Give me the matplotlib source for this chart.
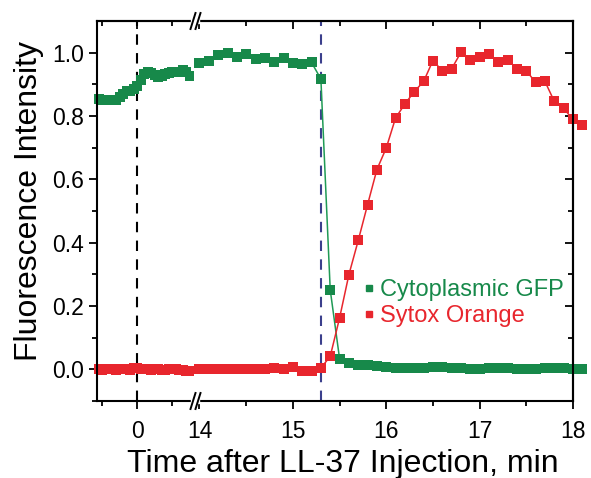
import numpy as np
import matplotlib
matplotlib.use("Agg")
import matplotlib.pyplot as plt
from matplotlib.lines import Line2D

plt.rcParams["font.family"] = ["Liberation Sans", "DejaVu Sans"]

# tiempos (min) antes del corte del eje
t_antes = [-0.55, -0.50, -0.45, -0.40, -0.35, -0.30, -0.25, -0.20, -0.15,
           -0.10, -0.05, 0.00, 0.05, 0.10, 0.15, 0.20, 0.25, 0.30, 0.35,
           0.40, 0.45, 0.50, 0.55, 0.60, 0.65, 0.70, 0.75]
gfp_antes = [0.854, 0.852, 0.849, 0.849, 0.850, 0.852, 0.860, 0.868, 0.878,
             0.880, 0.886, 0.896, 0.915, 0.933, 0.938, 0.936, 0.928, 0.922,
             0.925, 0.933, 0.937, 0.938, 0.938, 0.940, 0.945, 0.938, 0.925]
sytox_antes = [0.0, -0.002, 0.0, 0.002, 0.0, -0.003, 0.0, 0.002, 0.0,
               -0.002, 0.003, 0.005, 0.002, 0.0, 0.002, -0.002, 0.0, 0.0,
               -0.003, -0.002, 0.0, 0.002, 0.0, -0.003, -0.002, -0.004, -0.004]

# tiempos (min) despues del corte
t_despues = [14.0, 14.1, 14.2, 14.3, 14.4, 14.5, 14.6, 14.7, 14.8, 14.9,
             15.0, 15.1, 15.2, 15.3, 15.4, 15.5, 15.6, 15.7, 15.8, 15.9,
             16.0, 16.1, 16.2, 16.3, 16.4, 16.5, 16.6, 16.7, 16.8, 16.9,
             17.0, 17.1, 17.2, 17.3, 17.4, 17.5, 17.6, 17.7, 17.8, 17.9,
             18.0, 18.1]
gfp_despues = [0.966, 0.975, 0.994, 1.000, 0.985, 0.996, 0.980, 0.983, 0.969, 0.982,
               0.966, 0.964, 0.969, 0.917, 0.251, 0.034, 0.020, 0.013, 0.013, 0.011,
               0.007, 0.004, 0.005, 0.005, 0.005, 0.007, 0.007, 0.004, 0.004, 0.002,
               0.002, 0.004, 0.005, 0.004, 0.002, 0.002, 0.002, 0.004, 0.005, 0.005,
               0.002, 0.000]
sytox_despues = [0.0, 0.0, 0.0, 0.0, 0.0, 0.0, 0.0, 0.0, 0.003, 0.0,
                 0.006, -0.004, -0.004, 0.004, 0.041, 0.162, 0.299, 0.407, 0.520, 0.631,
                 0.699, 0.794, 0.838, 0.877, 0.909, 0.975, 0.943, 0.949, 1.001, 0.978,
                 0.985, 0.996, 0.972, 0.978, 0.949, 0.943, 0.906, 0.909, 0.846, 0.824,
                 0.789, 0.773]

t_inyeccion = 0.0
t_lisis = 15.3

verde = "#17894a"
verde_linea = "#1f9a55"
rojo = "#e8262d"
azul = "#3b3f8c"

fig = plt.figure(figsize=(5.91, 4.78), dpi=100)
W, H = 591, 478
izq, corte, der = 97, 194, 573
arriba, abajo = 21, 401
ax1 = fig.add_axes([izq / W, 1 - abajo / H, (corte - izq) / W, (abajo - arriba) / H])
ax2 = fig.add_axes([corte / W, 1 - abajo / H, (der - corte) / W, (abajo - arriba) / H])

estilo = dict(marker="s", markersize=6.5, markeredgewidth=0, lw=1.1, clip_on=False)
ax1.plot(t_antes, gfp_antes, color=verde, **estilo)
ax1.plot(t_antes, sytox_antes, color=rojo, **estilo)
ax2.plot(t_despues, gfp_despues, color=verde_linea, markerfacecolor=verde, **estilo)
ax2.plot(t_despues, sytox_despues, color=rojo, **estilo)

ax1.axvline(t_inyeccion, color="black", lw=1.5, ls=(0, (5, 4)), zorder=0)
ax2.axvline(t_lisis, color=azul, lw=1.5, ls=(0, (5, 4)), zorder=0)

ax1.set_xlim(-40 / 70, 57 / 70)
ax2.set_xlim(15 - (293 - corte) / 93.5, 18)
for ax in (ax1, ax2):
    ax.set_ylim(-0.1, 1.1)
    for s in ax.spines.values():
        s.set_linewidth(1.5)

ax1.spines["right"].set_visible(False)
ax2.spines["left"].set_visible(False)

ax1.set_xticks([0])
ax1.set_xticks([-0.5, 0.5], minor=True)
ax2.set_xticks([14, 15, 16, 17, 18])
ax2.set_xticks([14.5, 15.5, 16.5, 17.5], minor=True)
ax1.set_yticks([0.0, 0.2, 0.4, 0.6, 0.8, 1.0])
ax1.set_yticks([-0.1, 0.1, 0.3, 0.5, 0.7, 0.9], minor=True)
ax2.set_yticks([0.0, 0.2, 0.4, 0.6, 0.8, 1.0])
ax2.set_yticks([-0.1, 0.1, 0.3, 0.5, 0.7, 0.9], minor=True)

for ax in (ax1, ax2):
    ax.tick_params(which="major", length=6, width=1.3, direction="out", labelsize=16.5)
    ax.tick_params(which="minor", length=3.5, width=1.3, direction="out")
    ax.tick_params(axis="x", which="major", pad=7.5)
    # marcas espejo hacia dentro en el borde superior
    sup = ax.secondary_xaxis("top")
    sup.set_xticks(ax.get_xticks())
    sup.set_xticks(ax.get_xticks(minor=True), minor=True)
    sup.tick_params(which="major", length=6, width=1.3, direction="in", labeltop=False)
    sup.tick_params(which="minor", length=3.5, width=1.3, direction="in")
    sup.spines["top"].set_linewidth(1.5)

ax1.yaxis.set_major_formatter(plt.FormatStrFormatter("%.1f"))
ax2.tick_params(axis="y", which="both", left=False, labelleft=False)
lado = ax2.secondary_yaxis("right")
lado.set_yticks([0.0, 0.2, 0.4, 0.6, 0.8, 1.0])
lado.set_yticks([-0.1, 0.1, 0.3, 0.5, 0.7, 0.9], minor=True)
lado.tick_params(which="major", length=6, width=1.3, direction="in", labelright=False)
lado.tick_params(which="minor", length=3.5, width=1.3, direction="in")
lado.spines["right"].set_linewidth(1.5)

fig.text(29.5 / W, 1 - 201 / H, "Fluorescence Intensity", fontsize=23,
         rotation=90, ha="center", va="center")
fig.text(342.5 / W, 1 - 472 / H, "Time after LL-37 Injection, min",
         fontsize=23, ha="center", va="baseline")

# marcas de corte del eje
for y in (arriba, abajo):
    yf = 1 - y / H
    fig.patches.append(plt.Rectangle(((corte - 3) / W, yf - 2 / H), 8 / W, 4 / H,
                                     transform=fig.transFigure, color="white", zorder=5))
    for x0 in (190.5, 195.5):
        fig.lines.append(Line2D([x0 / W, (x0 + 5) / W], [yf - 8 / H, yf + 8 / H],
                                transform=fig.transFigure, color="black", lw=1.4, zorder=6))

manejadores = [Line2D([], [], ls="none", marker="s", markersize=5, color=verde),
               Line2D([], [], ls="none", marker="s", markersize=5, color=rojo)]
ley = ax2.legend(manejadores, ["Cytoplasmic GFP", "Sytox Orange"], loc="upper left",
                 bbox_to_anchor=(0.45, 0.32), frameon=False, fontsize=17,
                 handlelength=0.4, handletextpad=0.25, borderaxespad=0, borderpad=0,
                 labelspacing=0.15)
for txt, c in zip(ley.get_texts(), (verde, rojo)):
    txt.set_color(c)

fig.savefig("out.png", dpi=100)
